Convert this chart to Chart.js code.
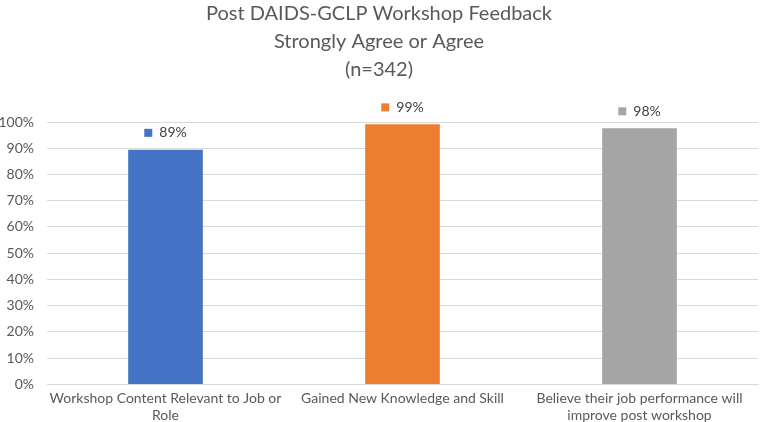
<!DOCTYPE html>
<html>
<head>
<meta charset="utf-8">
<script src="https://cdn.jsdelivr.net/npm/chart.js@4.4.1/dist/chart.umd.min.js"></script>
<style>
  html, body { margin: 0; padding: 0; background: #fff; }
  #wrap { width: 760px; height: 422px; position: relative; }
</style>
</head>
<body>
<div id="wrap"><canvas id="feedbackChart"></canvas></div>
<script>
// ワークショップ後アンケート（同意・強く同意の割合）
const categories = [
  ['Workshop Content Relevant to Job or', 'Role'],
  'Gained New Knowledge and Skill',
  ['Believe their job performance will', 'improve post workshop']
];
const agreePercent = [89.4, 99.1, 97.6];
const barColors = ['#4472c4', '#ed7d31', '#a5a5a5'];
const titleLines = ['Post DAIDS-GCLP Workshop Feedback', 'Strongly Agree or Agree', '(n=342)'];

// バー上にマーカー付きのラベルを描く
const legendKeyLabels = {
  id: 'legendKeyLabels',
  afterDatasetsDraw(chart) {
    const ctx = chart.ctx;
    const meta = chart.getDatasetMeta(0);
    ctx.save();
    ctx.font = '14px Lato, "Open Sans", sans-serif';
    ctx.textBaseline = 'middle';
    meta.data.forEach((bar, i) => {
      const text = Math.round(agreePercent[i]) + '%';
      const w = ctx.measureText(text).width;
      const total = 8 + 7 + w;
      const x0 = bar.x - total / 2;
      const y = bar.y - 17;
      ctx.fillStyle = barColors[i];
      ctx.fillRect(x0, y - 4, 8, 8);
      ctx.fillStyle = '#404040';
      ctx.textAlign = 'left';
      ctx.fillText(text, x0 + 15, y);
    });
    ctx.restore();
  }
};

const ctx = document.getElementById('feedbackChart');
new Chart(ctx, {
  type: 'bar',
  data: {
    labels: categories,
    datasets: [{
      data: agreePercent,
      backgroundColor: barColors,
      borderWidth: 0,
      categoryPercentage: 1,
      barPercentage: 0.315
    }]
  },
  options: {
    responsive: true,
    maintainAspectRatio: false,
    animation: false,
    layout: { padding: { left: 0, right: 2, top: 0, bottom: -8 } },
    plugins: {
      legend: { display: false },
      tooltip: { enabled: false },
      title: {
        display: true,
        text: titleLines,
        color: '#595959',
        font: { family: 'Lato, "Open Sans", sans-serif', size: 20, weight: 'normal', lineHeight: 1.4 },
        padding: { top: 0, bottom: 38 }
      }
    },
    scales: {
      x: {
        grid: { display: false, drawTicks: false },
        border: { color: '#d9d9d9' },
        ticks: {
          color: '#595959',
          font: { family: 'Lato, "Open Sans", sans-serif', size: 14, lineHeight: 1.2 },
          maxRotation: 0,
          autoSkip: false,
          padding: 6
        }
      },
      y: {
        min: 0,
        max: 100,
        border: { display: false },
        grid: { color: '#d9d9d9', drawTicks: false },
        ticks: {
          stepSize: 10,
          color: '#595959',
          padding: 13,
          font: { family: 'Lato, "Open Sans", sans-serif', size: 14 },
          callback: function(value) {
            return value + '%';
          }
        },
        // 軸幅を固定（元のチャートに合わせる）
        afterFit: function(scale) {
          scale.width = 47;
        }
      }
    }
  },
  plugins: [legendKeyLabels]
});
</script>
</body>
</html>
